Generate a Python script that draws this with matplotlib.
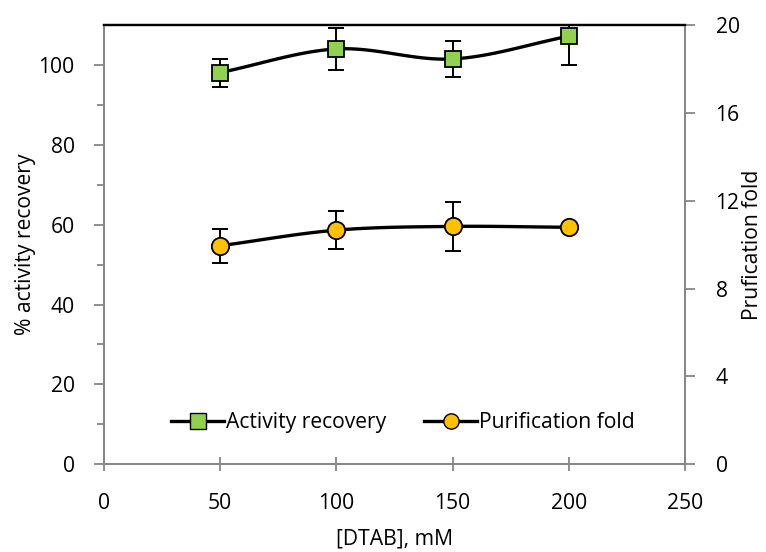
import numpy as np
import matplotlib
matplotlib.use("Agg")
import matplotlib.pyplot as plt
from matplotlib.lines import Line2D

plt.rcParams['font.family'] = ['Open Sans', 'DejaVu Sans']

# Data
dtab_mM = [50, 100, 150, 200]
activity_recovery = [98.1, 104.0, 101.5, 107.2]
activity_err = [3.5, 5.3, 4.4, 7.3]
purification_fold = [9.95, 10.66, 10.83, 10.79]
purification_err = [0.77, 0.88, 1.13, 0.0]


def smooth(x, y, n=40):
    """Catmull-Rom spline through the points (smoothed line)."""
    x = np.asarray(x, float)
    y = np.asarray(y, float)
    px = np.concatenate([[2 * x[0] - x[1]], x, [2 * x[-1] - x[-2]]])
    py = np.concatenate([[2 * y[0] - y[1]], y, [2 * y[-1] - y[-2]]])
    xs, ys = [], []
    t = np.linspace(0, 1, n)
    for i in range(1, len(px) - 2):
        for arr, out in ((px, xs), (py, ys)):
            p0, p1, p2, p3 = arr[i - 1], arr[i], arr[i + 1], arr[i + 2]
            seg = 0.5 * ((2 * p1) + (-p0 + p2) * t
                         + (2 * p0 - 5 * p1 + 4 * p2 - p3) * t ** 2
                         + (-p0 + 3 * p1 - 3 * p2 + p3) * t ** 3)
            out.extend(seg)
    return np.array(xs), np.array(ys)


green = '#92D050'
gold = '#FFC000'
gray = '#868686'
fs = 15.2

fig = plt.figure(figsize=(7.66, 5.52), dpi=100)
ax = fig.add_axes([0.1358, 0.1589, 0.7585, 0.7958])
ax2 = ax.twinx()

# Activity recovery (left axis)
sx, sy = smooth(dtab_mM, activity_recovery)
ax.plot(sx, sy, color='black', lw=2.4, zorder=2)
ax.errorbar(dtab_mM, activity_recovery, yerr=activity_err, fmt='none',
            ecolor='black', elinewidth=1.4, capsize=5.5, capthick=1.4, zorder=3)
ax.plot(dtab_mM, activity_recovery, ls='none', marker='s', ms=11.5,
        mfc=green, mec='black', mew=1.3, zorder=4)

# Purification fold (right axis)
sx2, sy2 = smooth(dtab_mM, purification_fold)
ax2.plot(sx2, sy2, color='black', lw=2.4, zorder=2)
ax2.errorbar(dtab_mM, purification_fold, yerr=purification_err, fmt='none',
             ecolor='black', elinewidth=1.4, capsize=5.5, capthick=1.4, zorder=3)
ax2.plot(dtab_mM, purification_fold, ls='none', marker='o', ms=12.5,
         mfc=gold, mec='black', mew=1.3, zorder=4)

ax.set_xlim(0, 250)
ax.set_ylim(0, 110)
ax2.set_ylim(0, 20)
ax.set_xticks(np.arange(0, 251, 50))
ax.set_yticks(np.arange(0, 101, 20))
ax.set_yticks(np.arange(10, 110, 20), minor=True)
ax2.set_yticks(np.arange(0, 21, 4))

for a in (ax, ax2):
    for side in ('left', 'right', 'bottom'):
        a.spines[side].set_color(gray)
        a.spines[side].set_linewidth(1.3)
    a.spines['top'].set_color('black')
    a.spines['top'].set_linewidth(1.6)

ax.tick_params(axis='y', which='major', direction='out', length=7, width=1.3,
               color=gray, labelsize=fs, pad=14)
ax.tick_params(axis='y', which='minor', direction='out', length=5, width=1.3,
               color=gray)
ax.tick_params(axis='x', which='major', direction='inout', length=10, width=1.3,
               color=gray, labelsize=fs, pad=16)
ax2.tick_params(axis='y', which='major', direction='out', length=7, width=1.3,
                color=gray, labelsize=fs, pad=15)

ax.set_xlabel('[DTAB], mM', fontsize=fs, labelpad=10)
ax.set_ylabel('% activity recovery', fontsize=fs, labelpad=2)
ax2.set_ylabel('Prufication fold', fontsize=fs, labelpad=1.5)

handles = [
    Line2D([], [], color='black', lw=2.4, marker='s', ms=11, mfc=green,
           mec='black', mew=1.0),
    Line2D([], [], color='black', lw=2.4, marker='o', ms=11, mfc=gold,
           mec='black', mew=1.0),
]
ax2.legend(handles, ['Activity recovery', 'Purification fold'], ncol=2,
           loc='center', bbox_to_anchor=(0.515, 0.094), frameon=False,
           fontsize=fs, handlelength=2.5, handletextpad=0.1, columnspacing=1.8)

fig.savefig('out.png', dpi=100)
